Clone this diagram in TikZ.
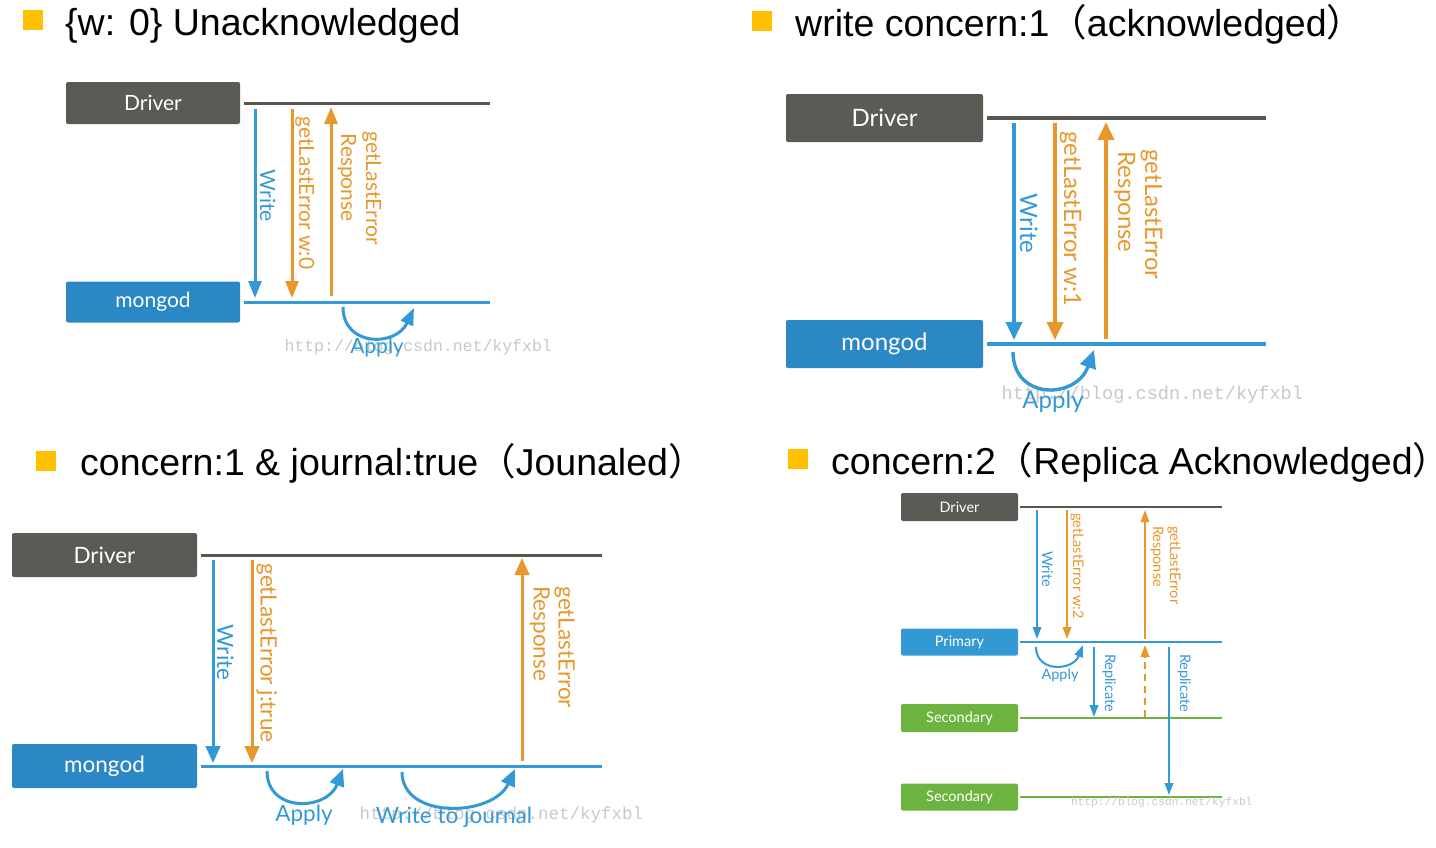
\documentclass[tikz,border=0pt]{standalone}
\usepackage{fontspec}
\setmainfont{Liberation Sans}
\newfontfamily\cjkfont{Noto Sans CJK SC}
\newfontfamily\diafont{Lato}
\newfontfamily\markfont{Liberation Mono}
\usetikzlibrary{arrows.meta}

\definecolor{drvgray}{HTML}{5B5A55}
\definecolor{linegray}{HTML}{57564F}
\definecolor{mgdblue}{HTML}{2B88C5}
\definecolor{primblue}{HTML}{3399D3}
\definecolor{secgreen}{HTML}{6CB33F}
\definecolor{arrblue}{HTML}{3399D6}
\definecolor{arrorange}{HTML}{E8972C}
\definecolor{titleyellow}{HTML}{FFC000}
\definecolor{wmgray}{HTML}{C8C8C8}

\tikzset{
  bulletsq/.style={fill=titleyellow, minimum size=20pt, inner sep=0pt},
  title/.style={anchor=base west, inner sep=0pt, font=\fontsize{37.5}{45}\selectfont},
  box/.style={rounded corners=2pt, text=white, inner sep=0pt},
  vlabel/.style={rotate=-90, anchor=base west, inner sep=0pt},
  arrgap/.style={},
  barrow/.style={draw=arrblue, ->, arrgap},
  oarrow/.style={draw=arrorange, ->, arrgap},
  applyloop/.style={draw=arrblue, ->},
  wmark/.style={anchor=west, inner sep=0pt, text=wmgray}
}

\begin{document}
\begin{tikzpicture}[x=1pt,y=-1pt]
\useasboundingbox (0,0) rectangle (1436,847);

% ---------- {w: 0} Unacknowledged ----------
\node[bulletsq] (bul1) at (33,20) {};
\node[title] (tit1) at (65,35) {\{w: 0\} Unacknowledged};

\begin{scope}[line width=3pt, >={Triangle[width=13pt,length=17pt]},
  arrgap/.style={shorten <=6pt, shorten >=4pt}, font=\diafont\fontsize{21}{25}\selectfont]
  \node[box, fill=drvgray, minimum width=174pt, minimum height=42pt] (drv1) at (153,103) {Driver};
  \node[box, fill=mgdblue, minimum width=174pt, minimum height=41pt] (mgd1) at (153,302) {mongod};
  \coordinate (end1) at (490,0);
  \draw[linegray] ([xshift=2pt]drv1.east) -- (drv1.east -| end1);
  \draw[arrblue] ([xshift=2pt]mgd1.east) -- (mgd1.east -| end1);

  % the three calls between the two lines
  \coordinate (wr1) at (255,0);
  \coordinate (gl1) at (292,0);
  \coordinate (rs1) at (331,0);
  \draw[barrow] (drv1.east -| wr1) -- (mgd1.east -| wr1);
  \draw[oarrow] (drv1.east -| gl1) -- (mgd1.east -| gl1);
  \draw[oarrow] (mgd1.east -| rs1) -- (drv1.east -| rs1);
  \node[vlabel, text=arrblue] (lwr1) at (260,168) {Write};
  \node[vlabel, text=arrorange] (lgl1) at (299,115) {getLastError w:0};
  \node[vlabel, text=arrorange] (lrs1) at (341,132) {Response};
  \node[vlabel, text=arrorange] (lgr1) at (366,130) {getLastError};

  % apply loop
  \node[wmark, font=\markfont\fontsize{16.5}{20}\selectfont] (wm1) at (283,347) {http://blog.csdn.net/kyfxbl};
  \coordinate (ap1a) at (343,307);
  \coordinate (ap1b) at (414,308);
  \draw[applyloop] (ap1a) .. controls +(0,40) and +(-18,39) .. (ap1b);
  \node[anchor=base, text=arrblue] (lap1) at (377,353) {Apply};
\end{scope}

% ---------- write concern:1 (acknowledged) ----------
\node[bulletsq] (bul2) at (762,21) {};
\node[title] (tit2) at (795,36) {write concern:1{\cjkfont （}acknowledged{\cjkfont ）}};

\begin{scope}[line width=3.4pt, >={Triangle[width=16pt,length=18pt]},
  arrgap/.style={shorten <=5pt, shorten >=4pt}, font=\diafont\fontsize{24}{29}\selectfont]
  \node[box, fill=drvgray, minimum width=197pt, minimum height=48pt] (drv2) at (884.5,118) {Driver};
  \node[box, fill=mgdblue, minimum width=197pt, minimum height=48pt] (mgd2) at (884.5,344) {mongod};
  \coordinate (end2) at (1266,0);
  \draw[linegray] ([xshift=2pt]drv2.east) -- (drv2.east -| end2);
  \draw[arrblue] ([xshift=2pt]mgd2.east) -- (mgd2.east -| end2);

  \coordinate (wr2) at (1014,0);
  \coordinate (gl2) at (1055,0);
  \coordinate (rs2) at (1106,0);
  \draw[barrow] (drv2.east -| wr2) -- (mgd2.east -| wr2);
  \draw[oarrow] (drv2.east -| gl2) -- (mgd2.east -| gl2);
  \draw[oarrow] (mgd2.east -| rs2) -- (drv2.east -| rs2);
  \node[vlabel, text=arrblue] (lwr2) at (1020,192) {Write};
  \node[vlabel, text=arrorange] (lgl2) at (1064,130) {getLastError w:1};
  \node[vlabel, text=arrorange] (lrs2) at (1118,150) {Response};
  \node[vlabel, text=arrorange] (lgr2) at (1145,148) {getLastError};

  \node[wmark, font=\markfont\fontsize{18.6}{22}\selectfont] (wm2) at (1000,395) {http://blog.csdn.net/kyfxbl};
  \coordinate (ap2a) at (1013,352);
  \coordinate (ap2b) at (1094,350);
  \draw[applyloop] (ap2a) .. controls +(0,48) and +(-18,50) .. (ap2b);
  \node[anchor=base, text=arrblue] (lap2) at (1053,408) {Apply};
\end{scope}

% ---------- concern:1 & journal:true (Jounaled) ----------
\node[bulletsq] (bul3) at (46,461) {};
\node[title] (tit3) at (80,475) {concern:1 \& journal:true{\cjkfont （}Jounaled{\cjkfont ）}};

\begin{scope}[line width=3pt, >={Triangle[width=14.5pt,length=17pt]},
  arrgap/.style={shorten <=5pt, shorten >=3pt}, font=\diafont\fontsize{22.5}{27}\selectfont]
  \node[box, fill=drvgray, minimum width=185pt, minimum height=44pt] (drv3) at (104.5,555) {Driver};
  \node[box, fill=mgdblue, minimum width=185pt, minimum height=44pt] (mgd3) at (104.5,766) {mongod};
  \coordinate (end3) at (602,0);
  \draw[linegray] ([xshift=2pt]drv3.east) -- (drv3.east -| end3);
  \draw[arrblue] ([xshift=2pt]mgd3.east) -- (mgd3.east -| end3);

  \coordinate (wr3) at (213,0);
  \coordinate (gl3) at (252,0);
  \coordinate (rs3) at (522,0);
  \draw[barrow] (drv3.east -| wr3) -- (mgd3.east -| wr3);
  \draw[oarrow] (drv3.east -| gl3) -- (mgd3.east -| gl3);
  \draw[oarrow] (mgd3.east -| rs3) -- (drv3.east -| rs3);
  \node[vlabel, text=arrblue] (lwr3) at (217,623) {Write};
  \node[vlabel, text=arrorange] (lgl3) at (260.5,562) {getLastError j:true};
  \node[vlabel, text=arrorange] (lrs3) at (533.5,585) {Response};
  \node[vlabel, text=arrorange] (lgr3) at (558.5,585) {getLastError};

  % apply, then write to journal
  \node[wmark, font=\markfont\fontsize{17.5}{21}\selectfont] (wm3) at (358,815) {http://blog.csdn.net/kyfxbl};
  \coordinate (ap3a) at (267,771);
  \coordinate (ap3b) at (343,769);
  \draw[applyloop] (ap3a) .. controls +(0,42) and +(-16,42) .. (ap3b);
  \node[anchor=base, text=arrblue] (lap3) at (304,821) {Apply};
  \coordinate (jr3a) at (402,772);
  \coordinate (jr3b) at (515,769);
  \draw[applyloop] (jr3a) .. controls +(0,48) and +(-22,48) .. (jr3b);
  \node[anchor=base, text=arrblue] (ljr3) at (454,823) {Write to journal};
\end{scope}

% ---------- concern:2 (Replica Acknowledged) ----------
\node[bulletsq] (bul4) at (798,459) {};
\node[title] (tit4) at (831,474) {concern:2{\cjkfont （}Replica Acknowledged\makebox[0.45em][l]{\cjkfont ）}};

\begin{scope}[line width=2pt, >={Triangle[width=8.5pt,length=12pt]},
  arrgap/.style={shorten <=3pt, shorten >=3pt}, font=\diafont\fontsize{14.5}{17}\selectfont]
  \node[box, fill=drvgray, minimum width=117pt, minimum height=28pt] (drv4) at (959.5,507) {Driver};
  \node[box, fill=primblue, minimum width=117pt, minimum height=27pt] (prm4) at (959.5,642) {Primary};
  \node[box, fill=secgreen, minimum width=117pt, minimum height=28pt] (sca4) at (959.5,718) {Secondary};
  \node[box, fill=secgreen, minimum width=117pt, minimum height=27pt] (scb4) at (959.5,797) {Secondary};
  \coordinate (end4) at (1222,0);
  \draw[linegray] ([xshift=1pt]drv4.east) -- (drv4.east -| end4);
  \draw[arrblue] ([xshift=1pt]prm4.east) -- (prm4.east -| end4);
  \draw[secgreen] ([xshift=1pt]sca4.east) -- (sca4.east -| end4);
  \draw[secgreen] ([xshift=1pt]scb4.east) -- (scb4.east -| end4);

  \coordinate (wr4) at (1037,0);
  \coordinate (gl4) at (1067,0);
  \coordinate (rs4) at (1145,0);
  \coordinate (rpa4) at (1094,0);
  \coordinate (rpb4) at (1169,0);
  \draw[barrow] (drv4.east -| wr4) -- (prm4.east -| wr4);
  \draw[oarrow] (drv4.east -| gl4) -- (prm4.east -| gl4);
  \draw[oarrow] (prm4.east -| rs4) -- (drv4.east -| rs4);
  \draw[barrow, shorten <=5pt, shorten >=1pt] (prm4.east -| rpa4) -- (sca4.east -| rpa4);
  \draw[oarrow, dash pattern=on 7pt off 5pt, shorten <=1pt] (sca4.east -| rs4) -- (prm4.east -| rs4);
  \draw[barrow, shorten <=5pt, shorten >=2pt] (prm4.east -| rpb4) -- (scb4.east -| rpb4);
  \node[vlabel, text=arrblue] (lwr4) at (1042,550) {Write};
  \node[vlabel, text=arrorange] (lgl4) at (1073,512) {getLastError w:2};
  \node[vlabel, text=arrorange] (lrs4) at (1153,525) {Response};
  \node[vlabel, text=arrorange] (lgr4) at (1170,525) {getLastError};
  \node[vlabel, text=arrblue] (lrpa4) at (1105,653) {Replicate};
  \node[vlabel, text=arrblue] (lrpb4) at (1180,653) {Replicate};

  \node[wmark, font=\markfont\fontsize{11.2}{13}\selectfont] (wm4) at (1070,803) {http://blog.csdn.net/kyfxbl};
  \coordinate (ap4a) at (1036,647);
  \coordinate (ap4b) at (1083,645);
  \draw[applyloop] (ap4a) .. controls +(0,26) and +(-10,26) .. (ap4b);
  \node[anchor=base, text=arrblue] (lap4) at (1060,679) {Apply};
\end{scope}

\end{tikzpicture}
\end{document}
